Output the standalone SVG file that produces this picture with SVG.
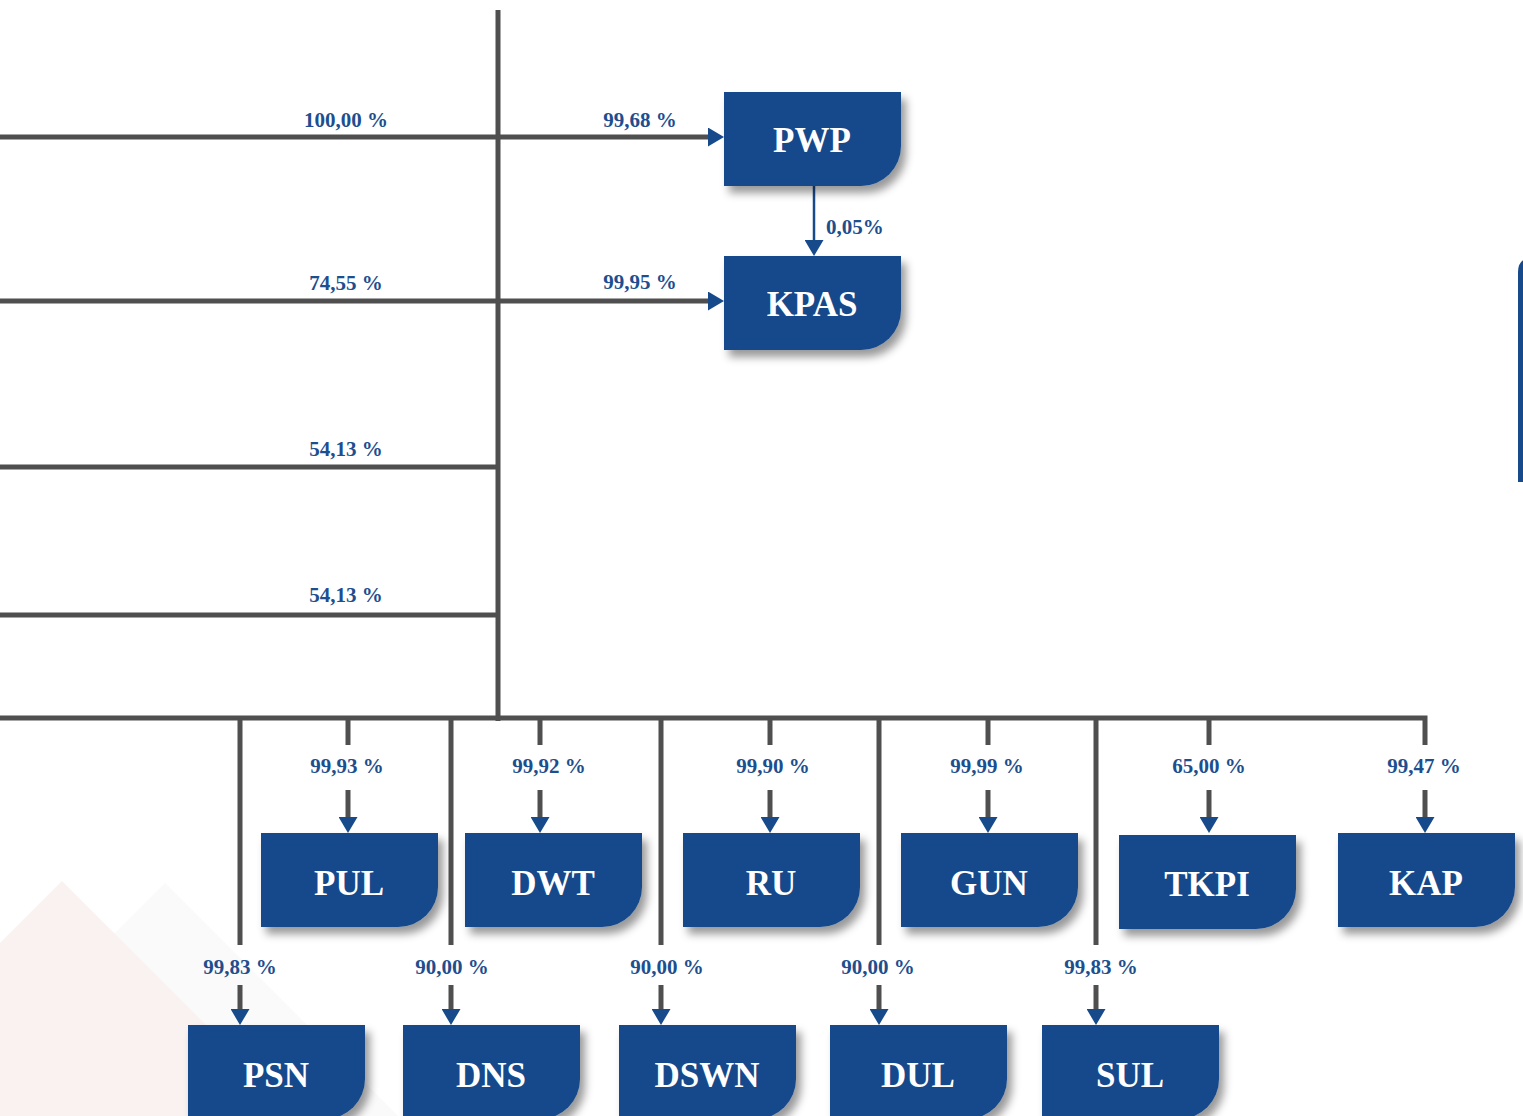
<svg xmlns="http://www.w3.org/2000/svg" xmlns:xlink="http://www.w3.org/1999/xlink" width="1523" height="1116" viewBox="0 0 1523 1116">
<style>
.ln{stroke:#4f4f4f;stroke-width:5;fill:none}
.lb{font-family:"Liberation Serif","Times New Roman",serif;font-weight:bold;font-size:21px;fill:#1d4e8e;text-anchor:middle}
.bx{fill:#174a8b;filter:url(#sh)}
.bt{font-family:"Liberation Serif","Times New Roman",serif;font-weight:bold;font-size:35px;fill:#ffffff;text-anchor:middle}
</style>
<defs>
<filter id="sh" x="-10%" y="-10%" width="130%" height="140%">
<feDropShadow dx="5" dy="7" stdDeviation="4" flood-color="#000" flood-opacity="0.4"/>
</filter>
<marker id="ah" viewBox="0 0 16 19" refX="0" refY="9.5" markerWidth="16" markerHeight="19" markerUnits="userSpaceOnUse" orient="auto">
<path d="M0,0 L16,9.5 L0,19 Z" fill="#174a8b"/>
</marker>
<path id="box" d="M0,0 H177 V54 A40,40 0 0 1 137,94 H0 Z"/>
</defs>
<rect width="1523" height="1116" fill="#ffffff"/>
<g id="background">
<polygon points="165,883 398,1116 0,1116 0,1048" fill="#fafafa"/>
<polygon points="62,881 297,1116 0,1116 0,943" fill="#faf1f1"/>
<path d="M1518,482 V272 Q1518,259 1530,258 V482 Z" fill="#174a8b"/>
</g>
<g id="connectors">
<line class="ln" x1="498" y1="10" x2="498" y2="721"/>
<line class="ln" x1="0" y1="137" x2="708" y2="137" marker-end="url(#ah)"/>
<line class="ln" x1="0" y1="301" x2="708" y2="301" marker-end="url(#ah)"/>
<line class="ln" x1="0" y1="467" x2="498" y2="467"/>
<line class="ln" x1="0" y1="615" x2="498" y2="615"/>
<polyline class="ln" points="0,718 1425,718 1425,745"/>
<line x1="814" y1="185" x2="814" y2="240" stroke="#174a8b" stroke-width="2.5" marker-end="url(#ah)"/>
<line class="ln" x1="348" y1="718" x2="348" y2="745"/><line class="ln" x1="348" y1="790" x2="348" y2="817" marker-end="url(#ah)"/>
<line class="ln" x1="540" y1="718" x2="540" y2="745"/><line class="ln" x1="540" y1="790" x2="540" y2="817" marker-end="url(#ah)"/>
<line class="ln" x1="770" y1="718" x2="770" y2="745"/><line class="ln" x1="770" y1="790" x2="770" y2="817" marker-end="url(#ah)"/>
<line class="ln" x1="988" y1="718" x2="988" y2="745"/><line class="ln" x1="988" y1="790" x2="988" y2="817" marker-end="url(#ah)"/>
<line class="ln" x1="1209" y1="718" x2="1209" y2="745"/><line class="ln" x1="1209" y1="790" x2="1209" y2="817" marker-end="url(#ah)"/>
<line class="ln" x1="1425" y1="790" x2="1425" y2="817" marker-end="url(#ah)"/>
<line class="ln" x1="240" y1="718" x2="240" y2="945"/><line class="ln" x1="240" y1="985" x2="240" y2="1009" marker-end="url(#ah)"/>
<line class="ln" x1="451" y1="718" x2="451" y2="945"/><line class="ln" x1="451" y1="985" x2="451" y2="1009" marker-end="url(#ah)"/>
<line class="ln" x1="661" y1="718" x2="661" y2="945"/><line class="ln" x1="661" y1="985" x2="661" y2="1009" marker-end="url(#ah)"/>
<line class="ln" x1="879" y1="718" x2="879" y2="945"/><line class="ln" x1="879" y1="985" x2="879" y2="1009" marker-end="url(#ah)"/>
<line class="ln" x1="1096" y1="718" x2="1096" y2="945"/><line class="ln" x1="1096" y1="985" x2="1096" y2="1009" marker-end="url(#ah)"/>
<text class="lb" x="346" y="127">100,00 %</text>
<text class="lb" x="640" y="127">99,68 %</text>
<text class="lb" x="346" y="290">74,55 %</text>
<text class="lb" x="640" y="289">99,95 %</text>
<text class="lb" x="346" y="456">54,13 %</text>
<text class="lb" x="346" y="602">54,13 %</text>
<text class="lb" x="826" y="234" style="text-anchor:start">0,05%</text>
<text class="lb" x="347" y="773">99,93 %</text>
<text class="lb" x="549" y="773">99,92 %</text>
<text class="lb" x="773" y="773">99,90 %</text>
<text class="lb" x="987" y="773">99,99 %</text>
<text class="lb" x="1209" y="773">65,00 %</text>
<text class="lb" x="1424" y="773">99,47 %</text>
<text class="lb" x="240" y="974">99,83 %</text>
<text class="lb" x="452" y="974">90,00 %</text>
<text class="lb" x="667" y="974">90,00 %</text>
<text class="lb" x="878" y="974">90,00 %</text>
<text class="lb" x="1101" y="974">99,83 %</text>
</g>
<g id="PWP"><use xlink:href="#box" class="bx" x="724" y="92"/><text class="bt" x="812" y="152">PWP</text></g>
<g id="KPAS"><use xlink:href="#box" class="bx" x="724" y="256"/><text class="bt" x="812" y="316">KPAS</text></g>
<g id="PUL"><use xlink:href="#box" class="bx" x="261" y="833"/><text class="bt" x="349" y="895">PUL</text></g>
<g id="DWT"><use xlink:href="#box" class="bx" x="465" y="833"/><text class="bt" x="553" y="895">DWT</text></g>
<g id="RU"><use xlink:href="#box" class="bx" x="683" y="833"/><text class="bt" x="771" y="895">RU</text></g>
<g id="GUN"><use xlink:href="#box" class="bx" x="901" y="833"/><text class="bt" x="989" y="895">GUN</text></g>
<g id="TKPI"><use xlink:href="#box" class="bx" x="1119" y="835"/><text class="bt" x="1207" y="896">TKPI</text></g>
<g id="KAP"><use xlink:href="#box" class="bx" x="1338" y="833"/><text class="bt" x="1426" y="895">KAP</text></g>
<g id="PSN"><use xlink:href="#box" class="bx" x="188" y="1025"/><text class="bt" x="276" y="1087">PSN</text></g>
<g id="DNS"><use xlink:href="#box" class="bx" x="403" y="1025"/><text class="bt" x="491" y="1087">DNS</text></g>
<g id="DSWN"><use xlink:href="#box" class="bx" x="619" y="1025"/><text class="bt" x="707" y="1087">DSWN</text></g>
<g id="DUL"><use xlink:href="#box" class="bx" x="830" y="1025"/><text class="bt" x="918" y="1087">DUL</text></g>
<g id="SUL"><use xlink:href="#box" class="bx" x="1042" y="1025"/><text class="bt" x="1130" y="1087">SUL</text></g>
</svg>
